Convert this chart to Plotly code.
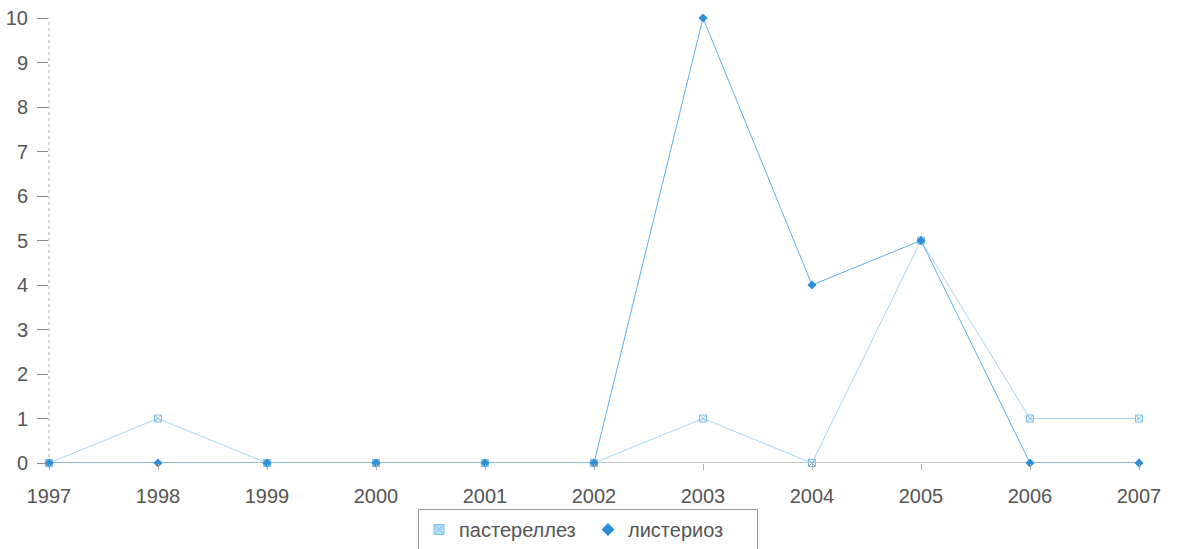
import plotly.graph_objects as go

years = [1997, 1998, 1999, 2000, 2001, 2002, 2003, 2004, 2005, 2006, 2007]
pasterellez = [0, 1, 0, 0, 0, 0, 1, 0, 5, 1, 1]
listerioz = [0, 0, 0, 0, 0, 0, 10, 4, 5, 0, 0]
y_ticks = list(range(0, 11))
names = ["пастереллез", "листериоз"]

FONT = "Liberation Sans, Arial, sans-serif"
C_PAST_LINE, C_PAST_MARK = "#a6d5f2", "#7cc0ea"
C_LIST_LINE, C_LIST_MARK = "#5aaee6", "#2f8fd6"

fig = go.Figure()
fig.add_trace(go.Scatter(
    x=years, y=pasterellez, name=names[0], mode="lines+markers",
    line=dict(color=C_PAST_LINE, width=1),
    marker=dict(symbol="square-x-open", size=7, color=C_PAST_MARK, line=dict(width=1)),
    cliponaxis=False, showlegend=False,
))
fig.add_trace(go.Scatter(
    x=years, y=listerioz, name=names[1], mode="lines+markers",
    line=dict(color=C_LIST_LINE, width=1),
    marker=dict(symbol="diamond", size=7, color=C_LIST_MARK),
    cliponaxis=False, showlegend=False,
))
# legend-only entries (marker only, as in the reference legend)
fig.add_trace(go.Scatter(
    x=[None], y=[None], name=names[0], mode="markers",
    marker=dict(symbol="square-x", size=10, color="#b9dff5",
                line=dict(width=1, color=C_PAST_MARK)),
))
fig.add_trace(go.Scatter(
    x=[None], y=[None], name=names[1], mode="markers",
    marker=dict(symbol="diamond", size=10, color=C_LIST_MARK),
))

fig.update_layout(
    width=1182, height=549,
    margin=dict(l=49, r=43, t=18, b=86, autoexpand=False),
    paper_bgcolor="white", plot_bgcolor="white",
    font=dict(family=FONT, size=20, color="#555555"),
    showlegend=True,
    legend=dict(
        orientation="h", xref="container", yref="container",
        x=418 / 1182, y=1 - 509 / 549, xanchor="left", yanchor="top",
        bordercolor="#9a9a9a", borderwidth=1, bgcolor="white",
        font=dict(family=FONT, size=20, color="#555555"),
        entrywidth=124, itemwidth=30,
    ),
    xaxis=dict(
        range=[1997, 2007], tickmode="array", tickvals=years,
        ticktext=[str(y) for y in years],
        showgrid=False, zeroline=False, showline=False,
        ticks="outside", ticklen=6, tickcolor="#aaaaaa", tickwidth=1,
        ticklabelstandoff=9, automargin=False,
        tickfont=dict(family=FONT, size=20, color="#555555"),
    ),
    yaxis=dict(
        range=[0, 10], tickmode="array", tickvals=y_ticks,
        showgrid=False, zeroline=False, showline=False,
        ticks="outside", ticklen=11, tickcolor="#888888", tickwidth=1,
        ticklabelstandoff=5, automargin=False,
        tickfont=dict(family=FONT, size=20, color="#555555"),
    ),
    shapes=[
        dict(type="line", xref="paper", yref="y", x0=0, x1=1, y0=0, y1=0,
             line=dict(color="#8a8a8a", width=1), layer="below"),
        dict(type="line", xref="paper", yref="paper", x0=0, x1=0, y0=0, y1=1,
             line=dict(color="#aaaaaa", width=1, dash="dot"), layer="below"),
    ],
)

fig.write_html("out.html")
